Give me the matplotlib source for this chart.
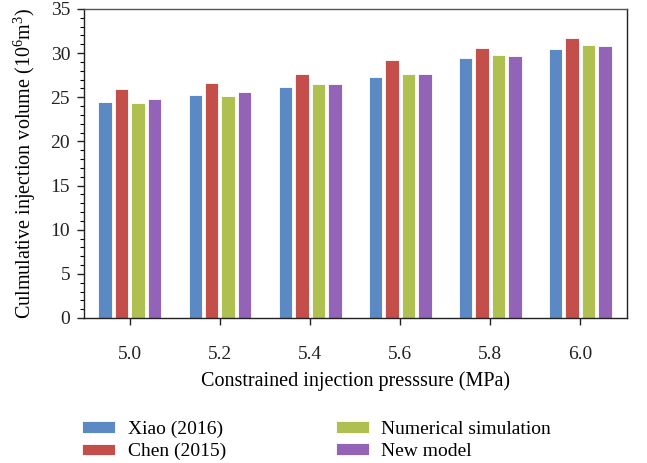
import matplotlib
matplotlib.use("Agg")
import matplotlib.pyplot as plt
import numpy as np
from matplotlib.ticker import MultipleLocator

plt.rcParams['font.family'] = ['Liberation Serif', 'DejaVu Serif']
plt.rcParams['mathtext.fontset'] = 'custom'
plt.rcParams['mathtext.rm'] = 'Liberation Serif'
plt.rcParams['mathtext.it'] = 'Liberation Serif:italic'

pressures = ['5.0', '5.2', '5.4', '5.6', '5.8', '6.0']
series_names = ['Xiao (2016)', 'Chen (2015)', 'Numerical simulation', 'New model']
xiao = [24.5, 25.3, 26.2, 27.3, 29.4, 30.5]
chen = [25.9, 26.6, 27.6, 29.2, 30.6, 31.7]
numerical = [24.3, 25.2, 26.5, 27.6, 29.8, 30.9]
new_model = [24.8, 25.6, 26.5, 27.6, 29.7, 30.8]
colors = ['#5B89C4', '#C44E4A', '#AFC051', '#9263B6']

fig = plt.figure(figsize=(6.47, 4.63), dpi=100)
ax = fig.add_axes([0.1298, 0.3132, 0.9692 - 0.1298, 0.9806 - 0.3132])

x = np.arange(len(pressures))
pitch = 0.183
width = 0.15
for i, (vals, name, c) in enumerate(zip([xiao, chen, numerical, new_model], series_names, colors)):
    ax.bar(x + (i - 1.5) * pitch, vals, width=width, color=c, edgecolor='white',
           linewidth=0.6, label=name)

ax.set_xlim(-0.51, len(pressures) - 1 + 0.52)
ax.set_ylim(0, 35)
ax.set_xticks(x)
ax.set_xticklabels(pressures)
ax.yaxis.set_major_locator(MultipleLocator(5))
ax.yaxis.set_minor_locator(MultipleLocator(1))
ax.tick_params(axis='both', which='major', direction='out', length=5, width=1,
               labelsize=14, colors='#222222')
ax.tick_params(axis='y', which='minor', direction='out', length=3, width=0.8)
ax.tick_params(axis='x', pad=15)
ax.tick_params(axis='y', pad=5)
for s in ax.spines.values():
    s.set_linewidth(1.0)
    s.set_color('#222222')
ax.spines['top'].set_color('#555555')

ax.set_ylabel('Culmulative injection volume (10$^{6}$m$^{3}$)', fontsize=14.5, labelpad=9)
ax.set_xlabel('Constrained injection presssure (MPa)', fontsize=14.5, labelpad=6)

fig.legend(loc='upper left', bbox_to_anchor=(0.1267, 0.092), ncol=2, frameon=False,
           fontsize=14, handlelength=1.7, handleheight=0.55, columnspacing=5.65,
           labelspacing=0.28, handletextpad=0.65, borderaxespad=0, borderpad=0)

fig.savefig('out.png', dpi=100)
